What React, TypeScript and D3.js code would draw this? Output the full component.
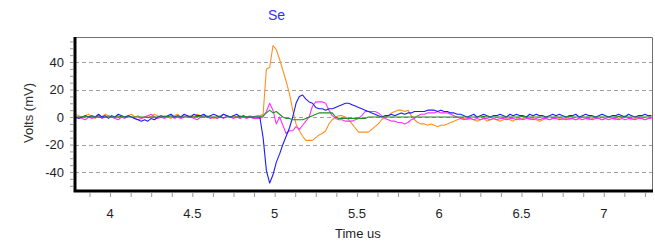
import { useEffect, useRef } from "react";
import * as d3 from "d3";

// sampled trace, 0.02 us between samples
const T0 = 3.79;
const DT = 0.02;

const orange = [
  2, 1, 0, 1, 2, 0, -1, 1, 0, 2, 1, 0, -1, 1, 0, 0, 1, 2, 0, 1, -1, 0, 1, 0, 2, 1, 0, 1, 0, -1,
  1, 2, 0, 1, 0, 1, 0, 2, 1, 0, 1, 0, -1, 0, 1, 2, 1, 0, 1, 0, 1, 0, 0, 1, 0, 1,
  1, 2, 35, 36, 52, 49, 42, 34, 26, 17, 5, -5, -10, -14, -17, -17, -17, -15, -13, -12,
  -10, -5, -2, 0, 1, 1, 0, -2, -5, -8, -11, -11, -11, -11, -9, -7, -5, -2, 0, 1,
  3, 4, 5, 5, 4, 5, 1, -2, -4, -5, -5, -6, -5, -6, -7, -6, -6, -5, -4, -3, -2, -1, -1, -2,
  -1, -2, -3, -2, -1, -3, -2, -1, -2, -3, -2, -1, -2, -3, -1, -2, -1, 0, -2, -1,
  -2, -3, -2, -1, -2, -1, 0, -1, -2, -1, -2, -1, -2, -1, 0, -1, -2, -1, 0, -1,
  -2, -1, 0, -1, -2, -1, 0, 1, -1, -2, -1, 0, -1, -2, -1, 0,
];

const blue = [
  0, -1, 0, 1, 0, 1, 0, 2, 0, 1, -1, 1, 0, 2, 1, 0, 1, 0, -1, -2, -3, -2, -3, -1, -2, 0, 1, 0, 1, 2,
  0, 1, 0, 2, 1, 0, 2, 1, 1, 2, 0, 1, 2, 1, 0, 2, 1, 0, 1, 2, 0, 1, 0, 0, 0, 0,
  0, -15, -39, -48, -42, -33, -27, -20, -14, -8, 0, 10, 15, 16, 13, 11, 10, 7, 6, 6,
  5, 6, 6, 7, 8, 9, 10, 10, 9, 8, 7, 6, 5, 4, 3, 2, 1, 0, 1, 1,
  2, 1, 2, 3, 2, 3, 3, 4, 4, 4, 4, 5, 5, 5, 4, 5, 4, 4, 3, 3, 2, 2, 1, 0,
  1, 2, 0, 1, 2, 1, 0, 1, 1, 2, 1, 0, 2, 1, 2, 1, 1, 0, 2, 1,
  2, 1, 1, 0, 1, 2, 1, 2, 1, 0, 1, 1, 2, 0, 1, 2, 1, 1, 0, 1,
  2, 1, 0, 1, 1, 2, 1, 0, 2, 1, 0, 1, 1, 2, 1, 1,
];

const magenta = [
  -1, 0, -1, -2, 0, -1, 0, 1, -1, 0, 1, 0, -1, -2, 0, -1, 1, 0, -1, -2, -1, 0, 1, 2, 0, -1, 0, -1, 0, 1,
  -1, 0, -1, 0, 1, 0, -1, -2, 0, 1, 0, -1, 0, -1, 0, -1, 1, 0, -1, 0, -1, 0, -1, 0, -1, -1,
  -1, 0, 4, 10, 5, -5, 0, -6, -12, -10, -10, -7, -9, -6, -3, 0, 8, 11, 11, 11,
  10, 5, 1, -1, -2, -2, -3, -3, -3, -2, -1, 1, 4, 4, 4, 4, 3, 1, -1, -2,
  -3, -3, -4, -4, -5, -4, -2, -1, 1, 2, 2, 3, 3, 3, 4, 3, 3, 3, 2, 1, 0, -1, -2, -1,
  -1, -2, -1, -2, -1, -1, -2, -1, -2, -1, -1, -2, -1, -1, -2, -1, -2, -1, -1, -2,
  -1, -2, -1, -1, -2, -1, -1, -2, -1, -2, -1, -1, -2, -1, -2, -1, -1, -2, -1, -1,
  -2, -1, -2, -1, -1, -2, -1, -2, -1, -1, -2, -1, -1, -2, -1, -1,
];

const green = [
  0, 0, 0, 0.5, 0, 0, 0, 0, -0.5, 0, 0, 0, 0, 0, 0.5, 0, 0, 0, 0, 0, 0, 0, -0.5, 0, 0, 0, 0, 0, 0.5, 0,
  0, 0, 0, 0, 0, 0, 0, 0.5, 0, 0, 0, 0, 0, 0, 0, -0.5, 0, 0, 0, 0, 0, 0.5, 0, 0, 0, 0,
  0, 1, 3, 5, 3, 4, 2, 0, -1, -1, -2, -2, -2, -2, -1, 0, 1, 2, 3, 3,
  3, 3, 3, 0, -1, -1, -1, -1, -1, -1, -1, -1, -1, 0, 0, 0, 0, 0, 0, 0,
  0, 0, 0, 0, 0, 0, 0, 0, 0, 0, 0, 0, 0, 0, 0, 0, 0, 0, 0, 0, 0, 0, 0, 0,
  0, 0, 0, 0, 0.5, 0, 0, 0, 0, 0, 0, 0, 0, 0, 0, 0, 0.5, 0, 0, 0,
  0, 0, 0, 0, 0, 0, 0, 0, 0, 0, 0.5, 0, 0, 0, 0, 0, 0, 0, 0, 0,
  0, 0, 0, 0, 0, 0.5, 0, 0, 0, 0, 0, 0, 0, 0, 0, 0,
];

const series = [
  { name: "orange", color: "#ff9020", values: orange },
  { name: "magenta", color: "#ff30ff", values: magenta },
  { name: "blue", color: "#1c1cff", values: blue },
  { name: "green", color: "#1f8f1f", values: green },
];

const yTicks = [-40, -20, 0, 20, 40];
const xTicks = [4, 4.5, 5, 5.5, 6, 6.5, 7];

export default function App() {
  const svgRef = useRef(null);

  useEffect(() => {
    const svg = d3.select(svgRef.current);
    svg.selectAll("*").remove();

    const width = 655;
    const height = 241;
    const plot = { left: 75, right: 652, top: 37, bottom: 191 };

    svg.attr("width", width).attr("height", height);

    const x = d3.scaleLinear().domain([3.787, 7.293]).range([plot.left, plot.right]);
    const y = d3.scaleLinear().domain([-53.8, 58.2]).range([plot.bottom, plot.top]);

    // gridlines
    svg
      .append("g")
      .selectAll("line")
      .data(yTicks)
      .enter()
      .append("line")
      .attr("x1", plot.left)
      .attr("x2", plot.right)
      .attr("y1", (d) => Math.round(y(d)) + 0.5)
      .attr("y2", (d) => Math.round(y(d)) + 0.5)
      .attr("stroke", "#a0a0a0")
      .attr("stroke-dasharray", "4,3");

    // frame (top/right thin gray)
    svg
      .append("path")
      .attr("d", `M${plot.left},${plot.top + 0.5}H${plot.right + 0.5}V${plot.bottom}`)
      .attr("fill", "none")
      .attr("stroke", "#707070");

    // traces
    svg
      .append("clipPath")
      .attr("id", "clip")
      .append("rect")
      .attr("x", plot.left)
      .attr("y", plot.top)
      .attr("width", plot.right - plot.left)
      .attr("height", plot.bottom - plot.top);

    const line = d3
      .line()
      .x((d, i) => x(T0 + DT * i))
      .y((d) => y(d));

    svg
      .append("g")
      .attr("clip-path", "url(#clip)")
      .selectAll("path")
      .data(series)
      .enter()
      .append("path")
      .attr("d", (s) => line(s.values))
      .attr("fill", "none")
      .attr("stroke", (s) => s.color)
      .attr("stroke-width", 1.1)
      .attr("stroke-linejoin", "round");

    // y axis
    const yAxis = svg
      .append("g")
      .attr("transform", `translate(${plot.left - 2},0)`)
      .call(
        d3
          .axisLeft(y)
          .tickValues(d3.range(-50, 56, 5))
          .tickSize(3)
          .tickFormat(() => "")
      );
    yAxis.select(".domain").remove();
    yAxis.selectAll("line").attr("stroke", "#999");

    svg
      .append("g")
      .selectAll("text")
      .data(yTicks)
      .enter()
      .append("text")
      .attr("x", plot.left - 11)
      .attr("y", (d) => y(d))
      .attr("dy", "0.36em")
      .attr("text-anchor", "end")
      .attr("font-family", "Liberation Sans, Arial, sans-serif")
      .attr("font-size", 13)
      .attr("fill", "#1e1e28")
      .text((d) => d);

    // x axis
    const xAxis = svg
      .append("g")
      .attr("transform", `translate(0,${plot.bottom + 2})`)
      .call(
        d3
          .axisBottom(x)
          .tickValues(d3.range(3.875, 7.3, 0.125))
          .tickSize(4)
          .tickFormat(() => "")
      );
    xAxis.select(".domain").remove();
    xAxis.selectAll("line").attr("stroke", "#999");

    svg
      .append("g")
      .selectAll("text")
      .data(xTicks)
      .enter()
      .append("text")
      .attr("x", (d) => x(d))
      .attr("y", 218)
      .attr("text-anchor", "middle")
      .attr("font-family", "Liberation Sans, Arial, sans-serif")
      .attr("font-size", 13)
      .attr("fill", "#1e1e28")
      .text((d) => d);

    // thick left and bottom axis lines
    svg
      .append("path")
      .attr("d", `M${plot.left},${plot.top}V${plot.bottom}H${plot.right + 1}`)
      .attr("fill", "none")
      .attr("stroke", "#000")
      .attr("stroke-width", 3);

    // labels
    svg
      .append("text")
      .attr("x", 268)
      .attr("y", 20)
      .attr("font-family", "Liberation Sans, Arial, sans-serif")
      .attr("font-size", 14)
      .attr("fill", "#3030ff")
      .text("Se");

    svg
      .append("text")
      .attr("transform", `translate(33,113) rotate(-90)`)
      .attr("text-anchor", "middle")
      .attr("font-family", "Liberation Sans, Arial, sans-serif")
      .attr("font-size", 13)
      .attr("fill", "#333")
      .text("Volts (mV)");

    svg
      .append("text")
      .attr("x", 335)
      .attr("y", 238)
      .attr("font-family", "Liberation Sans, Arial, sans-serif")
      .attr("font-size", 13)
      .attr("fill", "#1e1e28")
      .text("Time  us");
  }, []);

  return (
    <div style={{ position: "absolute", left: 0, top: 0 }}>
      <svg ref={svgRef}></svg>
    </div>
  );
}
